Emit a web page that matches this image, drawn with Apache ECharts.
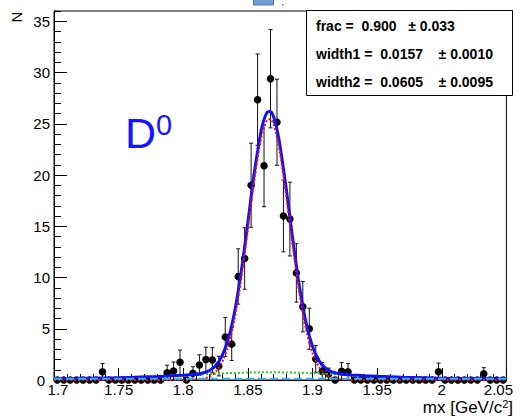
<!DOCTYPE html>
<html><head><meta charset="utf-8">
<script src="https://cdn.jsdelivr.net/npm/echarts@6/dist/echarts.min.js"></script>
<style>html,body{margin:0;padding:0;background:#fff}#c{width:532px;height:417px}</style>
</head><body><div id="c"></div>
<script>
// ---- data ----
const binCenters = [
1.7025,1.7075,1.7125,1.7175,1.7225,1.7275,1.7325,1.7375,1.7425,1.7475,
1.7525,1.7575,1.7625,1.7675,1.7725,1.7775,1.7825,1.7875,1.7925,1.7975,
1.8025,1.8075,1.8125,1.8175,1.8225,1.8275,1.8325,1.8375,1.8425,1.8475,
1.8525,1.8575,1.8625,1.8675,1.8725,1.8775,1.8825,1.8875,1.8925,1.8975,
1.9025,1.9075,1.9125,1.9175,1.9225,1.9275,1.9325,1.9375,1.9425,1.9475,
1.9525,1.9575,1.9625,1.9675,1.9725,1.9775,1.9825,1.9875,1.9925,1.9975,
2.0025,2.0075,2.0125,2.0175,2.0225,2.0275,2.0325,2.0375,2.0425,2.0475];
const counts = [
0,0,0,0,0,0,0,0.8,0,0,
0,0,0,0,0,0,0,0.7,0.88,1.72,
0,0.65,1.46,2.0,1.95,1.36,4.2,3.5,10.1,11.85,
19.0,27.35,20.9,29.4,25.15,16.0,15.7,10.45,7.15,5.0,
2.05,0.85,0.58,0,0.85,0.8,0,0,0,0,
0,0,0,0,0,0,0,0,0,0.8,
0,0,0,0,0,0,0.6,0,0,0];
const errors = [
0,0,0,0,0,0,0,0.8,0,0,
0,0,0,0,0,0,0,0.75,0.88,1.2,
0,0.65,1.0,1.2,1.2,0.96,1.9,1.6,2.7,3.0,
4.1,4.45,4.0,4.8,4.2,3.5,3.6,2.85,2.45,2.0,
1.3,0.85,0.58,0,0.85,0.8,0,0,0,0,
0,0,0,0,0,0,0,0,0,0.85,
0,0,0,0,0,0,0.6,0,0,0];

const curveX = [1.70,1.75,1.78,1.79,1.80,1.805,1.81,1.815,1.82,1.825,1.83,1.835,1.84,1.845,1.85,
1.855,1.86,1.8625,1.865,1.8675,1.87,1.8725,1.875,1.88,1.885,1.89,1.895,1.90,1.905,1.91,
1.915,1.92,1.925,1.93,1.94,1.95,1.97,2.00,2.05];
const totalFit = [0.134,0.219,0.347,0.403,0.467,0.508,0.566,0.677,0.906,1.393,2.355,4.08,6.83,10.70,15.41,
20.24,24.16,25.43,26.13,26.20,25.63,24.45,22.76,18.35,13.46,9.02,5.59,3.28,1.89,1.156,
0.793,0.623,0.54,0.49,0.421,0.363,0.266,0.175,0.126];
const narrowComp = [0,0,0,0,0.003,0.012,0.039,0.118,0.317,0.775,1.71,3.41,6.14,9.99,14.68,
19.50,23.41,24.68,25.38,25.45,24.88,23.70,22.02,17.62,12.74,8.32,4.91,2.62,1.26,0.549,
0.216,0.077,0.025,0.007,0,0,0,0,0];
const wideComp = [0.134,0.219,0.347,0.403,0.464,0.496,0.527,0.559,0.589,0.618,0.645,0.670,0.692,0.712,0.727,
0.739,0.746,0.749,0.750,0.750,0.749,0.747,0.744,0.735,0.721,0.704,0.684,0.661,0.635,0.607,
0.577,0.546,0.515,0.483,0.421,0.363,0.266,0.175,0.126];
const bkgX = [1.70, 2.05];
const bkgY = [0.12, 0.12];

const statLines = ['frac =  0.900   \u00b1 0.033', 'width1 =  0.0157    \u00b1 0.0010', 'width2 =  0.0605    \u00b1 0.0095'];
const xTitle = ['mx [GeV/c', '2', ']'];
const yTitle = 'N';
const particle = ['D', '0'];

// ---- chart ----
const FONT = 'Liberation Sans, Arial, Helvetica, sans-serif';
const zip = (a, b) => a.map((v, i) => [v, b[i]]);
const pts = zip(binCenters, counts);
const errData = binCenters.map((x, i) => [x, counts[i] - errors[i], counts[i] + errors[i]]).filter((d, i) => errors[i] > 0);

const chart = echarts.init(document.getElementById('c'), null, {renderer: 'svg'});
const option = {
  animation: false,
  backgroundColor: '#fff',
  grid: {left: 54, right: 19, top: 11, bottom: 37, show: true, borderColor: '#000', borderWidth: 1, backgroundColor: '#fff'},
  xAxis: {
    type: 'value', min: 1.7, max: 2.05, interval: 0.05,
    axisLine: {show: true, onZero: false, lineStyle: {color: '#000', width: 1}},
    axisTick: {show: true, inside: true, length: 12, lineStyle: {color: '#000', width: 1}},
    minorTick: {show: true, splitNumber: 5, length: 6, lineStyle: {color: '#000', width: 1}},
    splitLine: {show: false}, minorSplitLine: {show: false},
    axisLabel: {color: '#000', fontSize: 15, fontFamily: FONT, margin: 4, lineHeight: 10,
      formatter: v => {
        const s = String(parseFloat(v.toFixed(3)));
        if (Math.abs(v - 2.05) < 1e-6) return '{r|' + s + '}';
        if (Math.abs(v - 1.7) < 1e-6) return '{l|' + s + '}';
        return s;
      },
      rich: {
        r: {fontSize: 15, fontFamily: FONT, color: '#000', lineHeight: 10, padding: [0, 16, 0, 0]},
        l: {fontSize: 15, fontFamily: FONT, color: '#000', lineHeight: 10, padding: [0, 0, 0, 8]}
      }}
  },
  yAxis: [{
    type: 'value', min: 0, max: 36, interval: 5, position: 'left',
    axisLine: {show: true, onZero: false, lineStyle: {color: '#000', width: 1}},
    axisTick: {show: true, inside: true, length: 13, lineStyle: {color: '#000', width: 1}},
    splitLine: {show: false},
    axisLabel: {color: '#000', fontSize: 15, fontFamily: FONT, margin: 4, lineHeight: 8, showMaxLabel: false,
      formatter: v => v === 0 ? '{z|0}' : String(v),
      rich: {z: {fontSize: 15, fontFamily: FONT, color: '#000', lineHeight: 8, padding: [0, 5, 0, 0]}}}
  }, {
    type: 'value', min: 0, max: 36, interval: 1, position: 'left',
    axisLine: {show: false},
    axisTick: {show: true, inside: true, length: 7, lineStyle: {color: '#000', width: 1}},
    splitLine: {show: false},
    axisLabel: {show: false}
  }],
  series: [
    {
      type: 'custom', name: 'errors', data: errData, z: 2,
      encode: {x: 0, y: [1, 2]},
      renderItem: (params, api) => {
        const x = api.value(0);
        const p1 = api.coord([x, Math.max(0, api.value(1))]);
        const p2 = api.coord([x, api.value(2)]);
        const c = 2;
        const st = {stroke: '#111', lineWidth: 1};
        return {type: 'group', children: [
          {type: 'line', shape: {x1: p1[0], y1: p1[1], x2: p2[0], y2: p2[1]}, style: st},
          {type: 'line', shape: {x1: p2[0] - c, y1: p2[1], x2: p2[0] + c, y2: p2[1]}, style: st},
          {type: 'line', shape: {x1: p1[0] - c, y1: p1[1], x2: p1[0] + c, y2: p1[1]}, style: st}
        ]};
      }
    },
    {type: 'scatter', name: 'data', data: pts, symbol: 'circle', symbolSize: 7.5, z: 3,
      itemStyle: {color: '#000', opacity: 1}, clip: false},
    {type: 'line', name: 'wide', data: zip(curveX, wideComp), showSymbol: false, smooth: 0.3, z: 4,
      lineStyle: {color: '#22cc22', width: 2, type: 'dotted'}},
    {type: 'line', name: 'total', data: zip(curveX, totalFit), showSymbol: false, smooth: 0.3, z: 5,
      lineStyle: {color: '#1010ff', width: 3}},
    {type: 'line', name: 'narrow', data: zip(curveX, narrowComp), showSymbol: false, smooth: 0.3, z: 6,
      lineStyle: {color: '#ee1111', width: 2, type: 'dotted'}},
    {type: 'line', name: 'bkg', data: zip(bkgX, bkgY), showSymbol: false, z: 7,
      lineStyle: {color: '#33b0ee', width: 2, type: 'dashed'}}
  ],
  graphic: [
    {type: 'rect', shape: {x: 253.5, y: -2, width: 20, height: 7}, style: {fill: '#6e9bd4', stroke: '#4a74ad', lineWidth: 1}, z: 10},
    {type: 'rect', shape: {x: 282, y: 4, width: 1.5, height: 1.5}, style: {fill: '#4a74ad'}, z: 10},
    {type: 'rect', shape: {x: 306.5, y: 10.5, width: 206, height: 85}, style: {fill: '#fff', stroke: '#000', lineWidth: 1}, z: 20},
    {type: 'text', x: 316, y: 25.5, z: 21, style: {text: statLines[0], fontSize: 14, fontWeight: 'bold', fontFamily: FONT, fill: '#000', align: 'left', verticalAlign: 'middle'}},
    {type: 'text', x: 316, y: 53.5, z: 21, style: {text: statLines[1], fontSize: 14, fontWeight: 'bold', fontFamily: FONT, fill: '#000', align: 'left', verticalAlign: 'middle'}},
    {type: 'text', x: 316, y: 81.5, z: 21, style: {text: statLines[2], fontSize: 14, fontWeight: 'bold', fontFamily: FONT, fill: '#000', align: 'left', verticalAlign: 'middle'}},
    {type: 'text', x: 16, y: 17, rotation: Math.PI / 2, z: 21, style: {text: yTitle, fontSize: 15, fontFamily: FONT, fill: '#000', align: 'center', verticalAlign: 'middle'}},
    {type: 'text', x: 513, y: 407, z: 21, style: {text: '{a|' + xTitle[0] + '}{b|' + xTitle[1] + '}{a|' + xTitle[2] + '}', fontFamily: FONT, fill: '#000', align: 'right', verticalAlign: 'middle',
      rich: {a: {fontSize: 17, fontFamily: FONT, fill: '#000', lineHeight: 18, verticalAlign: 'bottom'}, b: {fontSize: 11, fontFamily: FONT, fill: '#000', lineHeight: 18, verticalAlign: 'top'}}}},
    {type: 'text', x: 125, y: 132, z: 21, style: {text: '{d|' + particle[0] + '}{s|' + particle[1] + '}', fontFamily: FONT, fill: '#1515ff', align: 'left', verticalAlign: 'middle',
      rich: {d: {fontSize: 43, fontFamily: FONT, fill: '#1515ff', lineHeight: 44, verticalAlign: 'bottom'}, s: {fontSize: 29, fontFamily: FONT, fill: '#1515ff', lineHeight: 44, verticalAlign: 'top'}}}}
  ]
};
chart.setOption(option);
</script></body></html>
